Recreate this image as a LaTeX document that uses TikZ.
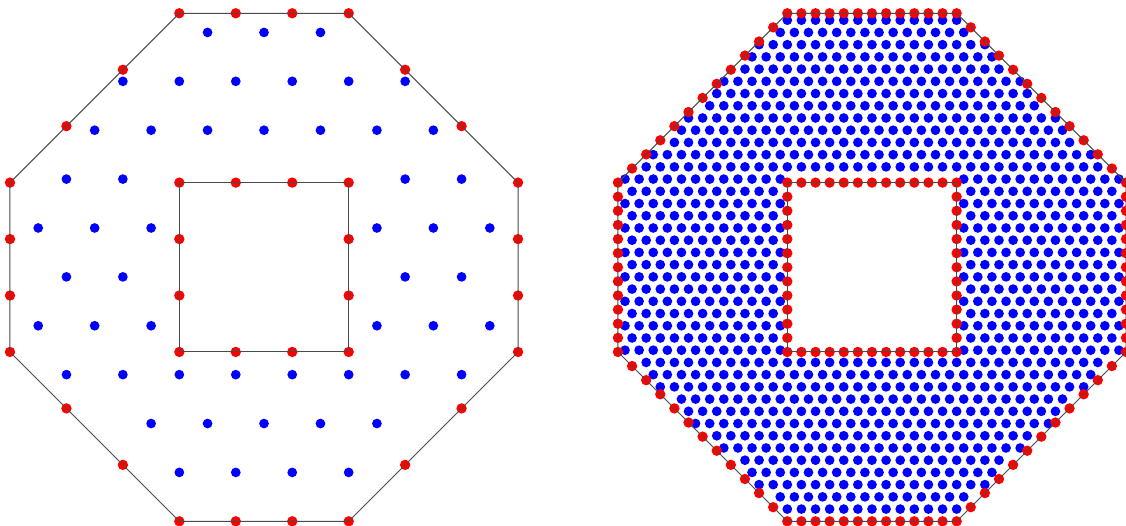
\documentclass[tikz,border=0pt]{standalone}
\usepackage{tikz}
\usetikzlibrary{calc}
\definecolor{ptblue}{HTML}{0000FF}
\definecolor{ptred}{HTML}{FF0000}
\definecolor{edgegrey}{HTML}{4A4A4A}
\tikzset{
  meshedge/.style={draw=edgegrey, line width=0.5pt},
  declare function={
    inoct(\ux,\uy,\uL) = (\ux>0)&&(\ux<\uL)&&(\uy>0)&&(\uy<\uL)&&(\ux+\uy>\uL/3)&&(\uy-\ux<2*\uL/3)&&(\ux+\uy<5*\uL/3)&&(\ux-\uy<2*\uL/3);
    insq(\ux,\uy,\uL) = (\ux>\uL/3-0.001)&&(\ux<2*\uL/3+0.001)&&(\uy>\uL/3-0.001)&&(\uy<2*\uL/3+0.001);
    okpt(\ux,\uy,\uL) = inoct(\ux,\uy,\uL)&&(1-insq(\ux,\uy,\uL));
    keep(\ux,\uy,\uL) = okpt(\ux,\uy+0.18,\uL)&&okpt(\ux,\uy-0.35,\uL)&&okpt(\ux+0.18,\uy,\uL)&&okpt(\ux-0.18,\uy,\uL);
  }
}
% octagon with square hole, lattice refined #2 times, shifted #1 cm
\newcommand{\drawMesh}[2]{%
\begin{scope}[xshift=#1cm]
  \pgfmathtruncatemacro{\nL}{9*#2}
  \pgfmathsetmacro{\sc}{1/#2}
  \pgfmathtruncatemacro{\nrow}{floor(\nL/0.8660254)}
  % interior points on a triangular lattice
  \foreach \i in {1,...,\nrow}{
    \pgfmathsetmacro{\ly}{\i*0.8660254}
    \pgfmathsetmacro{\lo}{0.5*mod(\i+1,2)}
    \foreach \k in {0,...,\nL}{
      \pgfmathtruncatemacro{\kp}{keep(\k+\lo,\ly,\nL)}
      \ifnum\kp=1
        \fill[ptblue] ({(\k+\lo)*\sc},{\ly*\sc}) circle (0.086);
      \fi
    }
  }
  % boundary points
  \pgfmathtruncatemacro{\nseg}{3*#2}
  \pgfmathtruncatemacro{\nlast}{\nseg-1}
  \foreach \ax/\ay/\bx/\by in {3/0/6/0, 6/0/9/3, 9/3/9/6, 9/6/6/9, 6/9/3/9, 3/9/0/6, 0/6/0/3, 0/3/3/0,
                               3/3/6/3, 6/3/6/6, 6/6/3/6, 3/6/3/3}{
    \foreach \t in {0,...,\nlast}{
      \fill[ptred] ({\ax+(\bx-\ax)*\t/\nseg},{\ay+(\by-\ay)*\t/\nseg}) circle (0.092);
    }
  }
  \draw[meshedge] (3,0) -- (6,0) -- (9,3) -- (9,6) -- (6,9) -- (3,9) -- (0,6) -- (0,3) -- cycle;
  \draw[meshedge] (3,3) rectangle (6,6);
\end{scope}
}

\begin{document}
\begin{tikzpicture}
  % frame of the 1126x525 image, 1cm = one coarse spacing
  \clip (-0.177,-0.066) rectangle (19.77,9.235);

  % ===== coarse mesh =====
  \drawMesh{0}{1}

  % ===== refined mesh =====
  \drawMesh{10.77}{4}
\end{tikzpicture}
\end{document}
